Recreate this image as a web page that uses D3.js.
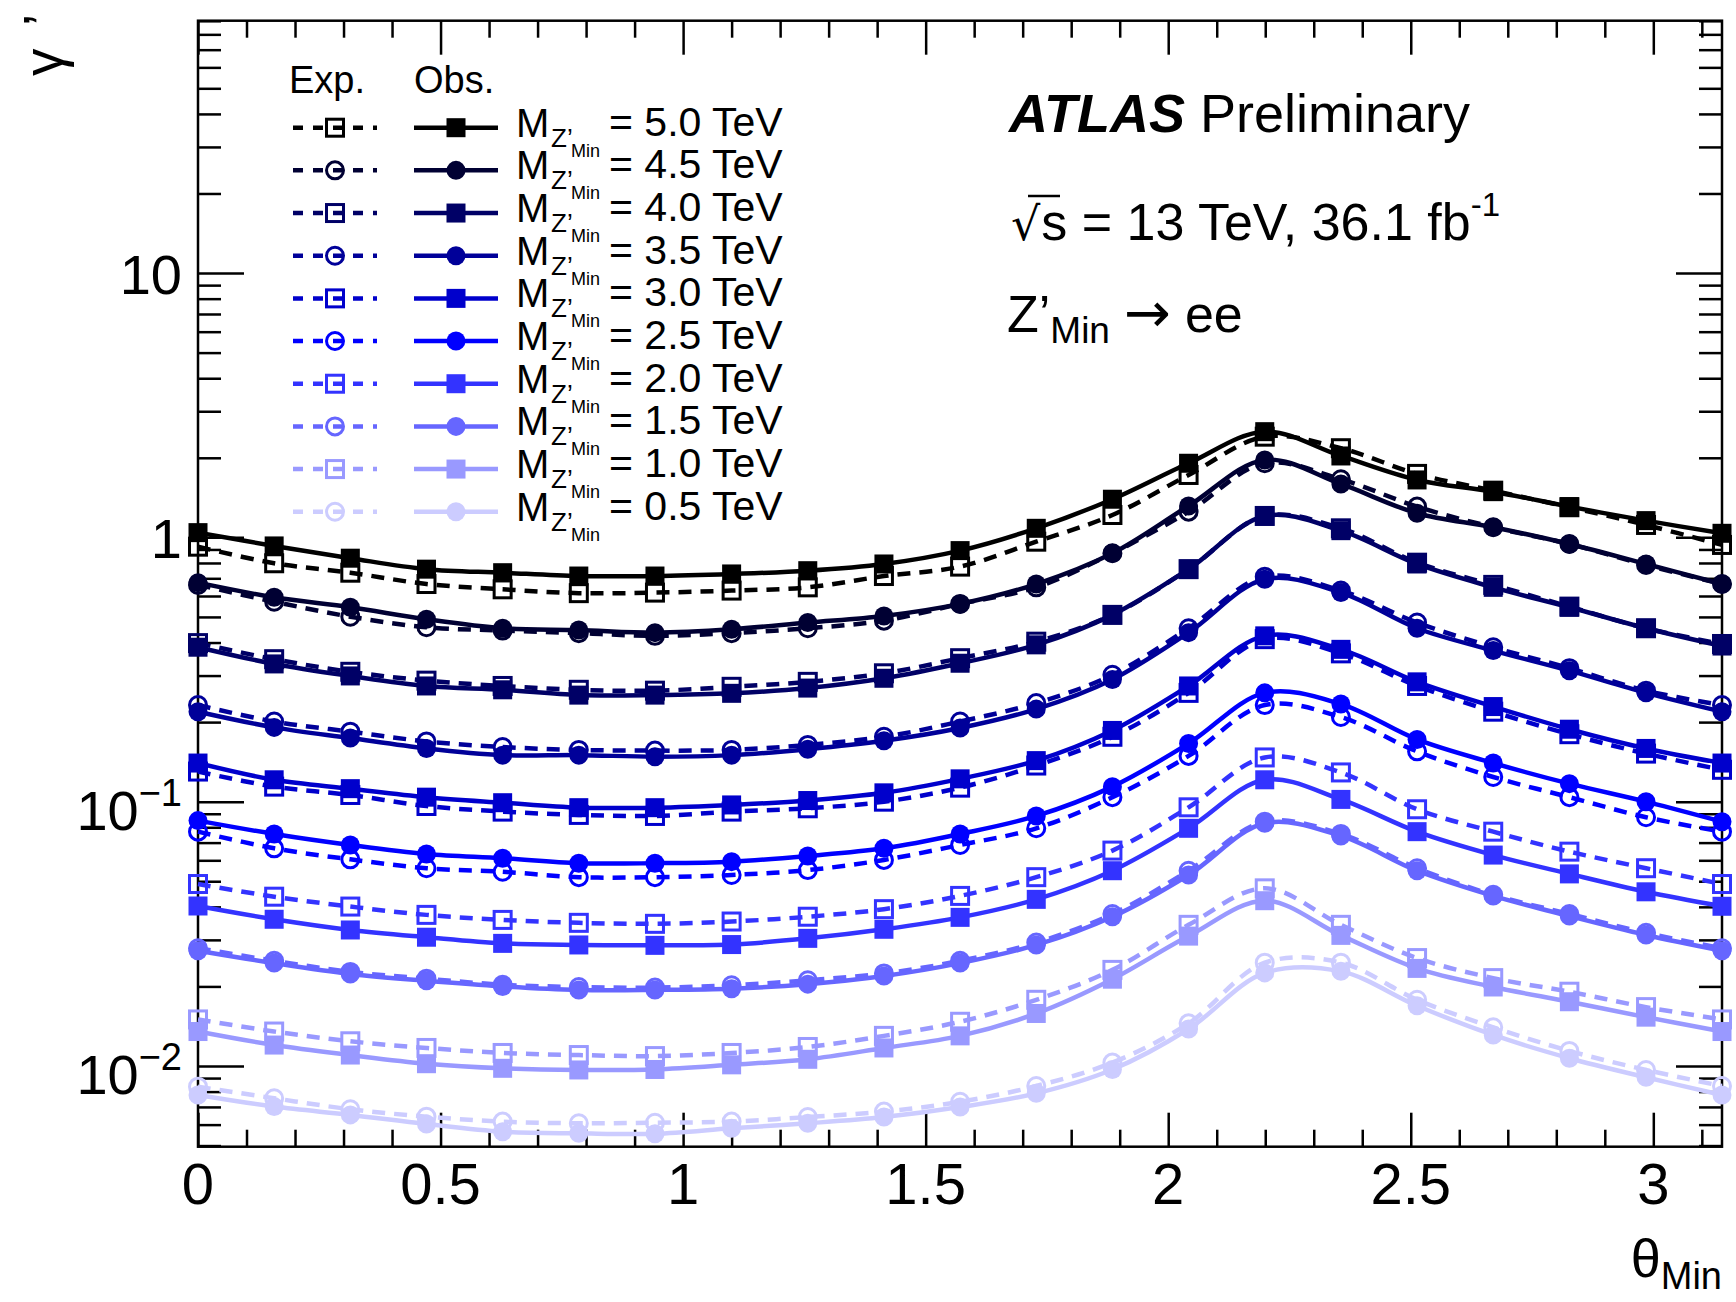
<!DOCTYPE html>
<html>
<head>
<meta charset="utf-8">
<script src="https://cdn.jsdelivr.net/npm/d3@7"></script>
<style>
body { margin: 0; background: #fff; }
svg { display: block; font-family: "Liberation Sans", Arial, sans-serif; }
</style>
</head>
<body>
<div id="chart"></div>
<script>
var w = 1736, h = 1302;
var frame = {left: 198, right: 1722, top: 20.7, bottom: 1146.7};
var svg, x, y;

// theta_Min sample points (21 points from 0 to pi)
var theta = [0, 0.157, 0.314, 0.471, 0.628, 0.785, 0.942, 1.100, 1.257, 1.414, 1.571,
             1.728, 1.885, 2.042, 2.199, 2.356, 2.513, 2.670, 2.827, 2.985, 3.1416];

var xTickValues = [0, 0.5, 1, 1.5, 2, 2.5, 3];
var xTickLabels = ["0", "0.5", "1", "1.5", "2", "2.5", "3"];
var yTickValues = [0.01, 0.1, 1, 10];
var yTickBase = ["10", "10", "1", "10"];
var yTickExp = ["\u22122", "\u22121", "", ""];

var massLabels = ["5.0", "4.5", "4.0", "3.5", "3.0", "2.5", "2.0", "1.5", "1.0", "0.5"];
var massColors = ["#000000", "#000033", "#000066", "#000099", "#0000cc",
                  "#0000ff", "#3333ff", "#6666ff", "#9999ff", "#ccccff"];
var massMarkers = ["square", "circle", "square", "circle", "square",
                   "circle", "square", "circle", "square", "circle"];

var obs50 = [1.042, 0.928, 0.834, 0.758, 0.735, 0.714, 0.714, 0.727, 0.748, 0.793, 0.891, 1.082, 1.394, 1.907, 2.511, 2.032, 1.649, 1.489, 1.307, 1.157, 1.036];
var exp50 = [0.922, 0.798, 0.735, 0.666, 0.636, 0.615, 0.618, 0.629, 0.647, 0.714, 0.775, 0.963, 1.215, 1.722, 2.404, 2.174, 1.738, 1.502, 1.300, 1.114, 0.936];
var obs45 = [0.674, 0.593, 0.544, 0.490, 0.453, 0.446, 0.436, 0.449, 0.476, 0.504, 0.560, 0.666, 0.871, 1.315, 1.963, 1.592, 1.234, 1.092, 0.944, 0.793, 0.666];
var exp45 = [0.661, 0.571, 0.501, 0.457, 0.444, 0.434, 0.424, 0.434, 0.453, 0.484, 0.560, 0.647, 0.871, 1.251, 1.907, 1.659, 1.307, 1.092, 0.944, 0.786, 0.666];
var obs40 = [0.384, 0.332, 0.299, 0.274, 0.265, 0.253, 0.253, 0.257, 0.269, 0.293, 0.334, 0.392, 0.509, 0.758, 1.205, 1.060, 0.793, 0.647, 0.544, 0.453, 0.388];
var exp40 = [0.398, 0.346, 0.310, 0.287, 0.274, 0.265, 0.263, 0.272, 0.284, 0.306, 0.349, 0.403, 0.509, 0.758, 1.205, 1.082, 0.802, 0.661, 0.547, 0.453, 0.395];
var obs35 = [0.219, 0.191, 0.174, 0.159, 0.150, 0.150, 0.148, 0.150, 0.158, 0.170, 0.190, 0.224, 0.290, 0.436, 0.694, 0.618, 0.453, 0.373, 0.313, 0.258, 0.219];
var exp35 = [0.232, 0.201, 0.184, 0.169, 0.161, 0.157, 0.156, 0.157, 0.164, 0.176, 0.201, 0.236, 0.302, 0.453, 0.710, 0.629, 0.476, 0.384, 0.320, 0.263, 0.232];
var obs30 = [0.140, 0.121, 0.112, 0.104, 0.0991, 0.0949, 0.0949, 0.0972, 0.101, 0.108, 0.122, 0.143, 0.186, 0.274, 0.424, 0.377, 0.284, 0.229, 0.188, 0.159, 0.140];
var exp30 = [0.130, 0.114, 0.106, 0.0963, 0.0917, 0.0891, 0.0883, 0.0917, 0.0944, 0.100, 0.113, 0.137, 0.176, 0.258, 0.412, 0.364, 0.274, 0.219, 0.180, 0.152, 0.132];
var obs25 = [0.0848, 0.0755, 0.0686, 0.0634, 0.0611, 0.0585, 0.0585, 0.0593, 0.0623, 0.0666, 0.0755, 0.0883, 0.114, 0.166, 0.258, 0.234, 0.172, 0.140, 0.117, 0.100, 0.0840];
var exp25 = [0.0770, 0.0666, 0.0605, 0.0560, 0.0543, 0.0518, 0.0518, 0.0528, 0.0551, 0.0602, 0.0686, 0.0793, 0.104, 0.149, 0.232, 0.209, 0.155, 0.124, 0.104, 0.0873, 0.0770];
var obs20 = [0.0403, 0.0359, 0.0327, 0.0307, 0.0291, 0.0287, 0.0286, 0.0288, 0.0304, 0.0329, 0.0365, 0.0427, 0.0548, 0.0793, 0.121, 0.102, 0.0770, 0.0628, 0.0533, 0.0456, 0.0402];
var exp20 = [0.0488, 0.0437, 0.0401, 0.0373, 0.0357, 0.0348, 0.0345, 0.0352, 0.0367, 0.0392, 0.0440, 0.0518, 0.0653, 0.0952, 0.147, 0.129, 0.0936, 0.0770, 0.0647, 0.0560, 0.0488];
var obs15 = [0.0273, 0.0245, 0.0223, 0.0210, 0.0200, 0.0194, 0.0194, 0.0196, 0.0204, 0.0219, 0.0245, 0.0287, 0.0367, 0.0528, 0.0829, 0.0742, 0.0548, 0.0440, 0.0369, 0.0313, 0.0273];
var exp15 = [0.0279, 0.0250, 0.0227, 0.0214, 0.0203, 0.0199, 0.0198, 0.0202, 0.0211, 0.0224, 0.0250, 0.0293, 0.0376, 0.0548, 0.0840, 0.0755, 0.0560, 0.0444, 0.0376, 0.0319, 0.0279];
var obs10 = [0.0135, 0.0120, 0.0110, 0.0102, 0.00980, 0.00966, 0.00970, 0.0101, 0.0106, 0.0117, 0.0130, 0.0158, 0.0213, 0.0310, 0.0422, 0.0312, 0.0234, 0.0199, 0.0175, 0.0153, 0.0135];
var exp10 = [0.0150, 0.0135, 0.0124, 0.0117, 0.0112, 0.0110, 0.0109, 0.0112, 0.0118, 0.0130, 0.0147, 0.0178, 0.0231, 0.0342, 0.0470, 0.0342, 0.0256, 0.0215, 0.0191, 0.0167, 0.0150];
var obs05 = [0.00777, 0.00702, 0.00653, 0.00603, 0.00564, 0.00556, 0.00554, 0.00581, 0.00607, 0.00641, 0.00699, 0.00788, 0.00970, 0.0138, 0.0225, 0.0228, 0.0169, 0.0131, 0.0107, 0.00906, 0.00777];
var exp05 = [0.00835, 0.00755, 0.00686, 0.00643, 0.00616, 0.00607, 0.00610, 0.00616, 0.00641, 0.00672, 0.00732, 0.00840, 0.0103, 0.0145, 0.0246, 0.0246, 0.0178, 0.0140, 0.0114, 0.00966, 0.00840];

var obsSets = [obs50, obs45, obs40, obs35, obs30, obs25, obs20, obs15, obs10, obs05];
var expSets = [exp50, exp45, exp40, exp35, exp30, exp25, exp20, exp15, exp10, exp05];

var markerSize = 19;
var lineWidth = 4.5;
var dash = "13,9";

initialize();

function initialize() {
    svg = d3.select("#chart").append("svg")
        .attr("width", w)
        .attr("height", h);
    svg.append("rect").attr("width", w).attr("height", h).attr("fill", "#fff");

    x = d3.scaleLinear().domain([0, Math.PI]).range([frame.left, frame.right]);
    y = d3.scaleLog().domain([0.00495, 90.1]).range([frame.bottom, frame.top]);

    drawFrame();
    drawSeries();
    drawLegend();
    drawLabels();
}

function tickStyle(g) {
    g.select(".domain").remove();
    g.selectAll(".tick line").attr("stroke", "#000").attr("stroke-width", 2.5);
    g.selectAll(".tick text").remove();
}

function drawFrame() {
    var xMinor = d3.range(0, 3.15, 0.1).filter(function(v) {
        return Math.abs(v * 2 - Math.round(v * 2)) > 1e-6;
    });
    var yMinor = [];
    [0.001, 0.01, 0.1, 1, 10].forEach(function(dec) {
        for (var k = 2; k <= 9; k++) {
            var v = k * dec;
            if (v > 0.00495 && v < 90.2) yMinor.push(v);
        }
    });

    // bottom / top
    svg.append("g").attr("transform", "translate(0," + frame.bottom + ")")
        .call(d3.axisBottom(x).tickValues(xTickValues).tickSize(-34)).call(tickStyle);
    svg.append("g").attr("transform", "translate(0," + frame.bottom + ")")
        .call(d3.axisBottom(x).tickValues(xMinor).tickSize(-17)).call(tickStyle);
    svg.append("g").attr("transform", "translate(0," + frame.top + ")")
        .call(d3.axisTop(x).tickValues(xTickValues).tickSize(-34)).call(tickStyle);
    svg.append("g").attr("transform", "translate(0," + frame.top + ")")
        .call(d3.axisTop(x).tickValues(xMinor).tickSize(-17)).call(tickStyle);
    // left / right
    svg.append("g").attr("transform", "translate(" + frame.left + ",0)")
        .call(d3.axisLeft(y).tickValues(yTickValues).tickSize(-46)).call(tickStyle);
    svg.append("g").attr("transform", "translate(" + frame.left + ",0)")
        .call(d3.axisLeft(y).tickValues(yMinor).tickSize(-23)).call(tickStyle);
    svg.append("g").attr("transform", "translate(" + frame.right + ",0)")
        .call(d3.axisRight(y).tickValues(yTickValues).tickSize(-46)).call(tickStyle);
    svg.append("g").attr("transform", "translate(" + frame.right + ",0)")
        .call(d3.axisRight(y).tickValues(yMinor).tickSize(-23)).call(tickStyle);

    svg.append("rect")
        .attr("x", frame.left).attr("y", frame.top)
        .attr("width", frame.right - frame.left)
        .attr("height", frame.bottom - frame.top)
        .attr("fill", "none")
        .attr("stroke", "#000")
        .attr("stroke-width", 2.5);

    // x tick labels
    svg.selectAll(".xlabel")
        .data(xTickValues)
        .enter()
        .append("text")
        .attr("class", "xlabel")
        .attr("x", function(d) { return x(d); })
        .attr("y", 1204)
        .attr("text-anchor", "middle")
        .attr("font-size", 58)
        .text(function(d, i) { return xTickLabels[i]; });

    // y tick labels
    var yl = svg.selectAll(".ylabel")
        .data(yTickValues)
        .enter()
        .append("text")
        .attr("class", "ylabel")
        .attr("x", 182)
        .attr("y", function(d, i) { return y(d) + (yTickExp[i] ? 28 : 21); })
        .attr("text-anchor", "end")
        .attr("font-size", 56);
    yl.append("tspan").text(function(d, i) { return yTickBase[i]; });
    yl.append("tspan")
        .attr("dy", function(d, i) { return yTickExp[i] ? -24 : 0; })
        .attr("font-size", 38)
        .text(function(d, i) { return yTickExp[i]; });
}

function drawMarker(g, type, cx, cy, color, filled) {
    if (type === "square") {
        var s = filled ? markerSize : markerSize - 2;
        g.append("rect")
            .attr("x", cx - s / 2).attr("y", cy - s / 2)
            .attr("width", s).attr("height", s)
            .attr("fill", filled ? color : "none")
            .attr("stroke", filled ? "none" : color)
            .attr("stroke-width", 3);
    } else {
        g.append("circle")
            .attr("cx", cx).attr("cy", cy)
            .attr("r", filled ? markerSize / 2 : markerSize / 2 - 1)
            .attr("fill", filled ? color : "none")
            .attr("stroke", filled ? "none" : color)
            .attr("stroke-width", 3);
    }
}

function drawSeries() {
    var line = d3.line()
        .x(function(d, i) { return x(theta[i]); })
        .y(function(d) { return y(d); })
        .curve(d3.curveCatmullRom.alpha(0.5));

    massLabels.forEach(function(m, k) {
        var g = svg.append("g").attr("class", "mass-" + m);
        var color = massColors[k];
        // expected: dashed line with open markers
        g.append("path")
            .attr("d", line(expSets[k]))
            .attr("fill", "none")
            .attr("stroke", color)
            .attr("stroke-width", lineWidth)
            .attr("stroke-dasharray", dash);
        expSets[k].forEach(function(v, i) {
            drawMarker(g, massMarkers[k], x(theta[i]), y(v), color, false);
        });
        // observed: solid line with filled markers
        g.append("path")
            .attr("d", line(obsSets[k]))
            .attr("fill", "none")
            .attr("stroke", color)
            .attr("stroke-width", lineWidth);
        obsSets[k].forEach(function(v, i) {
            drawMarker(g, massMarkers[k], x(theta[i]), y(v), color, true);
        });
    });
}

function drawLegend() {
    var top = 127.7, step = 42.67;
    var lg = svg.append("g").attr("class", "legend");
    lg.append("text").attr("x", 289).attr("y", 93.3).attr("font-size", 38).text("Exp.");
    lg.append("text").attr("x", 414).attr("y", 93.3).attr("font-size", 38).text("Obs.");

    massLabels.forEach(function(m, k) {
        var ry = top + k * step;
        var color = massColors[k];
        lg.append("line")
            .attr("x1", 293).attr("x2", 377).attr("y1", ry).attr("y2", ry)
            .attr("stroke", color).attr("stroke-width", lineWidth)
            .attr("stroke-dasharray", "10,10");
        drawMarker(lg, massMarkers[k], 335, ry, color, false);
        lg.append("line")
            .attr("x1", 414).attr("x2", 498).attr("y1", ry).attr("y2", ry)
            .attr("stroke", color).attr("stroke-width", lineWidth);
        drawMarker(lg, massMarkers[k], 456, ry, color, true);

        lg.append("text").attr("x", 516).attr("y", ry + 9).attr("font-size", 40).text("M");
        lg.append("text").attr("x", 551).attr("y", ry + 19).attr("font-size", 26).text("Z\u2019");
        lg.append("text").attr("x", 571).attr("y", ry + 29).attr("font-size", 18).text("Min");
        lg.append("text").attr("x", 609).attr("y", ry + 8).attr("font-size", 41)
            .text("= " + m + " TeV");
    });
}

function drawLabels() {
    // ATLAS label
    var t = svg.append("text").attr("x", 1009).attr("y", 132).attr("font-size", 54);
    t.append("tspan").attr("font-weight", "bold").attr("font-style", "italic").text("ATLAS");
    t.append("tspan").text(" Preliminary");

    // sqrt(s) line
    var s = svg.append("text").attr("x", 1011).attr("y", 240).attr("font-size", 52);
    s.append("tspan").attr("font-family", "DejaVu Sans").attr("font-size", 46).text("\u221A");
    s.append("tspan").attr("dx", 1).text("s = 13 TeV, 36.1 fb");
    s.append("tspan").attr("dy", -24).attr("font-size", 33).text("-1");
    svg.append("line")
        .attr("x1", 1028).attr("x2", 1060).attr("y1", 196).attr("y2", 196)
        .attr("stroke", "#000").attr("stroke-width", 2.5);

    // process
    var z = svg.append("text").attr("x", 1007).attr("y", 332).attr("font-size", 52);
    z.append("tspan").text("Z\u2019");
    z.append("tspan").attr("dy", 11).attr("font-size", 37).text("Min");
    z.append("tspan").attr("dy", -11).attr("dx", 14).attr("font-family", "DejaVu Sans")
        .attr("font-size", 56).text("\u2192");
    z.append("tspan").attr("dx", 14).text("ee");

    // x-axis title
    var xt = svg.append("text").attr("x", 1722).attr("y", 1277).attr("text-anchor", "end")
        .attr("font-size", 54);
    xt.append("tspan").text("\u03B8");
    xt.append("tspan").attr("dy", 12).attr("font-size", 38).text("Min");

    // y-axis title (cut at top of canvas)
    svg.append("text").attr("transform", "translate(61.6,76) rotate(-90)")
        .attr("font-size", 55).text("\u03B3");
    svg.append("text").attr("transform", "translate(61.6,26) rotate(-90)")
        .attr("font-size", 55).text("\u2019");
}
</script>
</body>
</html>
